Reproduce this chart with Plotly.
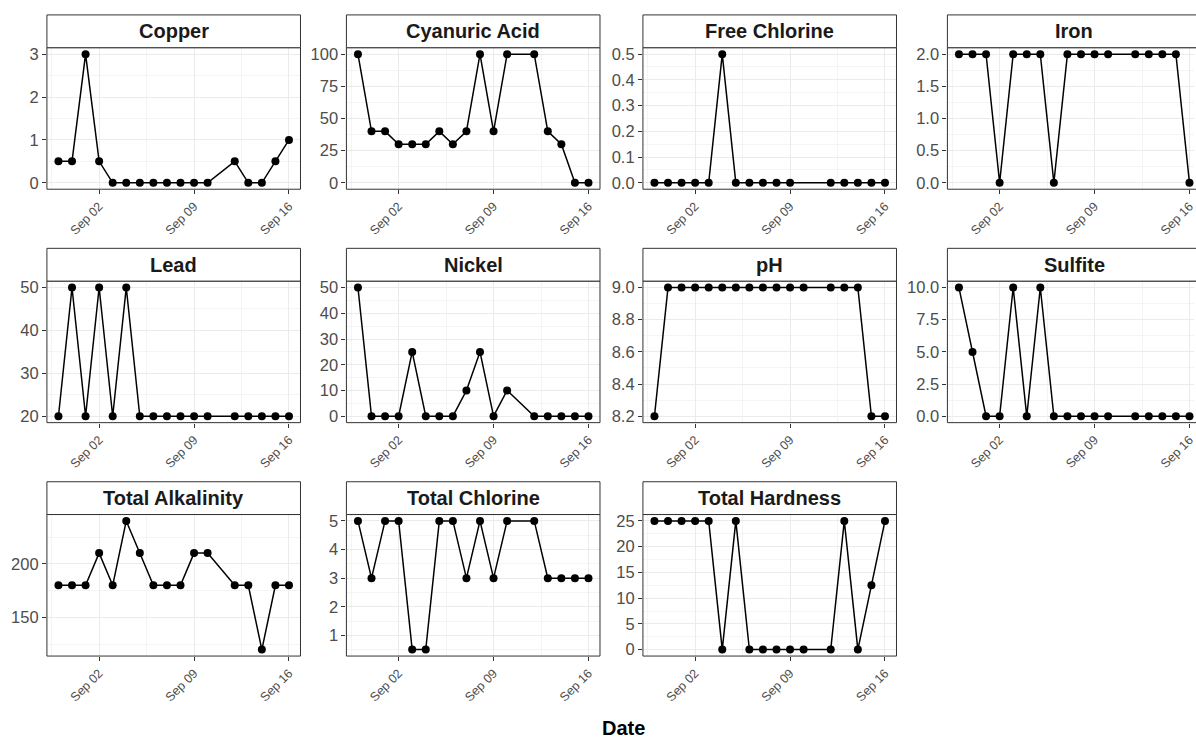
import plotly.graph_objects as go
from datetime import datetime, timedelta

# ---------------- data ----------------
dates = ["2023-08-30", "2023-08-31", "2023-09-01", "2023-09-02", "2023-09-03", "2023-09-04",
         "2023-09-05", "2023-09-06", "2023-09-07", "2023-09-08", "2023-09-09", "2023-09-10",
         "2023-09-11", "2023-09-12", "2023-09-13", "2023-09-14", "2023-09-15", "2023-09-16"]

copper = [0.5, 0.5, 3, 0.5, 0, 0, 0, 0, 0, 0, 0, 0, None, 0.5, 0, 0, 0.5, 1]
cyanuric_acid = [100, 40, 40, 30, 30, 30, 40, 30, 40, 100, 40, 100, None, 100, 40, 30, 0, 0]
free_chlorine = [0, 0, 0, 0, 0, 0.5, 0, 0, 0, 0, 0, None, None, 0, 0, 0, 0, 0]
iron = [2, 2, 2, 0, 2, 2, 2, 0, 2, 2, 2, 2, None, 2, 2, 2, 2, 0]
lead = [20, 50, 20, 50, 20, 50, 20, 20, 20, 20, 20, 20, None, 20, 20, 20, 20, 20]
nickel = [50, 0, 0, 0, 25, 0, 0, 0, 10, 25, 0, 10, None, 0, 0, 0, 0, 0]
ph = [8.2, 9, 9, 9, 9, 9, 9, 9, 9, 9, 9, 9, None, 9, 9, 9, 8.2, 8.2]
sulfite = [10, 5, 0, 0, 10, 0, 10, 0, 0, 0, 0, 0, None, 0, 0, 0, 0, 0]
total_alkalinity = [180, 180, 180, 210, 180, 240, 210, 180, 180, 180, 210, 210, None, 180, 180, 120, 180, 180]
total_chlorine = [5, 3, 5, 5, 0.5, 0.5, 5, 5, 3, 5, 3, 5, None, 5, 3, 3, 3, 3]
total_hardness = [25, 25, 25, 25, 25, 0, 25, 0, 0, 0, 0, 0, None, 0, 25, 0, 12.5, 25]

x_ticks = ["2023-09-02", "2023-09-09", "2023-09-16"]
x_tick_labels = ["Sep 02", "Sep 09", "Sep 16"]

panel_titles = ["Copper", "Cyanuric Acid", "Free Chlorine", "Iron", "Lead", "Nickel",
                "pH", "Sulfite", "Total Alkalinity", "Total Chlorine", "Total Hardness"]
panel_values = [copper, cyanuric_acid, free_chlorine, iron, lead, nickel,
                ph, sulfite, total_alkalinity, total_chlorine, total_hardness]
y_ticks = [[0, 1, 2, 3], [0, 25, 50, 75, 100], [0, 0.1, 0.2, 0.3, 0.4, 0.5],
           [0, 0.5, 1.0, 1.5, 2.0], [20, 30, 40, 50], [0, 10, 20, 30, 40, 50],
           [8.2, 8.4, 8.6, 8.8, 9.0], [0, 2.5, 5.0, 7.5, 10.0], [150, 200],
           [1, 2, 3, 4, 5], [0, 5, 10, 15, 20, 25]]
y_decimals = [0, 0, 1, 1, 0, 0, 1, 1, 0, 0, 0]

# ---------------- layout (pixels) ----------------
W, H = 1196, 740
col_left = [47, 347, 644, 949]
panel_w = 254
strip_top = [12, 247, 482]
panel_top = [45, 280, 515]
panel_bot = [187.5, 422.5, 657.5]

FONT = "Liberation Sans, Arial, sans-serif"
BORDER = "#333333"
GRID = "#EBEBEB"
MINOR = "#F4F4F4"

d0 = datetime.strptime(dates[0], "%Y-%m-%d")
d1 = datetime.strptime(dates[-1], "%Y-%m-%d")
span = d1 - d0
x_lo = d0 - span * 0.05
x_hi = d1 + span * 0.05

def px_x(p):
    return p / W

def px_y(p):
    return 1 - p / H

fig = go.Figure()
shapes = []
annotations = []

xminor = [datetime(2023, 8, 29, 12), datetime(2023, 9, 5, 12), datetime(2023, 9, 12, 12)]

for i, (title, vals) in enumerate(zip(panel_titles, panel_values)):
    r, c = divmod(i, 4)
    n = i + 1
    xa = "x" if n == 1 else f"x{n}"
    ya = "y" if n == 1 else f"y{n}"
    fig.add_trace(go.Scatter(
        x=dates, y=vals, mode="lines+markers", connectgaps=True,
        line=dict(color="black", width=1.5),
        marker=dict(color="black", size=8),
        xaxis=xa, yaxis=ya, showlegend=False, hoverinfo="x+y", cliponaxis=False))

    left = col_left[c]
    right_full = left + panel_w
    right = min(right_full, W)
    frac = (right - left) / panel_w
    xr_hi = x_lo + (x_hi - x_lo) * frac

    vv = [v for v in vals if v is not None]
    lo, hi = min(vv), max(vv)
    pad = (hi - lo) * 0.05
    yr = [lo - pad, hi + pad]

    tk = y_ticks[i]
    step = tk[1] - tk[0]
    ext = [tk[0] - step] + tk + [tk[-1] + step]
    yminor = [(a + b) / 2 for a, b in zip(ext[:-1], ext[1:])]
    fmt = "{:.%df}" % y_decimals[i]

    xkey = "xaxis" if n == 1 else f"xaxis{n}"
    ykey = "yaxis" if n == 1 else f"yaxis{n}"
    fig.update_layout(**{
        xkey: dict(
            domain=[px_x(left), px_x(right)], anchor=ya, type="date",
            range=[x_lo, xr_hi], tickmode="array", tickvals=x_ticks, ticktext=x_tick_labels,
            tickangle=-45, ticks="outside", ticklen=4, tickcolor=BORDER, tickwidth=1,
            tickfont=dict(family=FONT, size=12.5, color="#4D4D4D"),
            ticklabeloverflow="allow",
            showgrid=True, gridcolor=GRID, gridwidth=1, zeroline=False, showline=False,
            minor=dict(tickmode="array", tickvals=xminor, showgrid=True, gridcolor=MINOR,
                       gridwidth=0.7, ticks=""),
        ),
        ykey: dict(
            domain=[px_y(panel_bot[r]), px_y(panel_top[r])], anchor=xa,
            range=yr, tickmode="array", tickvals=tk, ticktext=[fmt.format(t) for t in tk],
            ticks="outside", ticklen=4, tickcolor=BORDER, tickwidth=1,
            tickfont=dict(family=FONT, size=16.5, color="#4D4D4D"),
            showgrid=True, gridcolor=GRID, gridwidth=1, zeroline=False, showline=False,
            minor=dict(tickmode="array", tickvals=yminor, showgrid=True, gridcolor=MINOR,
                       gridwidth=0.7, ticks=""),
        ),
    })

    # panel border
    shapes.append(dict(type="rect", xref="paper", yref="paper",
                       x0=px_x(left), x1=px_x(right_full),
                       y0=px_y(panel_bot[r]), y1=px_y(panel_top[r]),
                       line=dict(color=BORDER, width=1), fillcolor="rgba(0,0,0,0)", layer="above"))
    # strip
    shapes.append(dict(type="rect", xref="paper", yref="paper",
                       x0=px_x(left), x1=px_x(right_full),
                       y0=px_y(panel_top[r]), y1=px_y(strip_top[r]),
                       line=dict(color=BORDER, width=1), fillcolor="white", layer="above"))
    annotations.append(dict(text=title, xref="paper", yref="paper",
                            x=px_x((left + right_full) / 2), y=px_y((strip_top[r] + panel_top[r]) / 2),
                            xanchor="center", yanchor="middle", showarrow=False,
                            font=dict(family=FONT, size=20, color="#1A1A1A", weight="bold")))

annotations.append(dict(text="Date", xref="paper", yref="paper",
                        x=px_x((col_left[0] + col_left[3] + panel_w) / 2), y=px_y(730),
                        xanchor="center", yanchor="middle", showarrow=False,
                        font=dict(family=FONT, size=20, color="black", weight="bold")))

fig.update_layout(
    width=W, height=H, autosize=False,
    margin=dict(l=0, r=0, t=0, b=0),
    paper_bgcolor="white", plot_bgcolor="white",
    shapes=shapes, annotations=annotations,
    font=dict(family=FONT),
)

fig.write_html("out.html")
